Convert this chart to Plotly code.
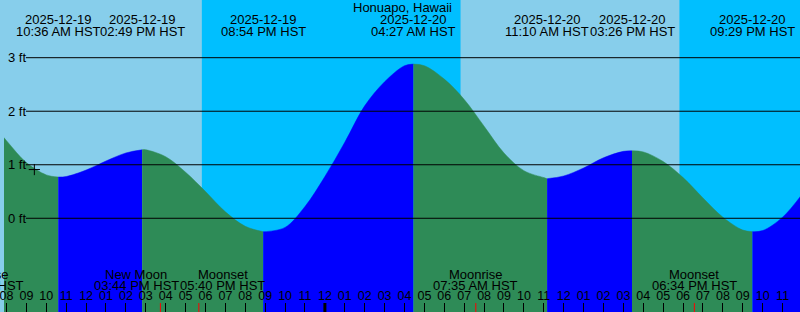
import plotly.graph_objects as go
import pandas as pd

# ---------------- data ----------------
station = "Honuapo, Hawaii"
tz_name = "HST"

hour_times = pd.date_range("2025-12-19 07:00", "2025-12-21 00:00", freq="h")
hour_heights = [1.89, 1.45, 1.04, 0.81, 0.78, 0.90, 1.07, 1.22,
                1.28, 1.15, 0.86, 0.50, 0.12, -0.15,
                -0.25, -0.17, 0.22, 0.78, 1.42, 2.10, 2.55, 2.85,
                2.85, 2.60, 2.22, 1.72, 1.22, 0.89, 0.76,
                0.79, 0.94, 1.13, 1.25,
                1.24, 1.06, 0.76, 0.38, 0.02, -0.22,
                -0.23, 0.02, 0.46]

extreme_times = ["2025-12-19 10:36", "2025-12-19 14:49", "2025-12-19 20:54",
                 "2025-12-20 04:27", "2025-12-20 11:10", "2025-12-20 15:26",
                 "2025-12-20 21:29"]
extreme_heights = [0.77, 1.28, -0.25, 2.88, 0.74, 1.26, -0.25]

sunsets = ["2025-12-19 17:49", "2025-12-20 17:49"]
sunrises = ["2025-12-20 06:49", "2025-12-21 06:49"]

event_times = ["2025-12-19 06:46", "2025-12-19 15:44", "2025-12-19 17:40",
               "2025-12-20 07:35", "2025-12-20 18:34"]
event_names = ["Moonrise", "New Moon", "Moonset", "Moonrise", "Moonset"]

now_time = "2025-12-19 09:24"
now_height = 0.91

y_ticks = [0, 1, 2, 3]
y_tick_text = ["0 ft", "1 ft", "2 ft", "3 ft"]
midnight = "2025-12-20 00:00"
x_range = ["2025-12-19 07:52:30", "2025-12-20 23:52:30"]
y_range = [-1.751, 4.078]

# ---------------- style ----------------
FONT = "Liberation Sans"
FS = 13
FS_TICK = 12.5
DAY = "#87CEEB"
NIGHT = "#00BFFF"
RISE = "#0000FF"
FALL = "#2E8B57"
W, H = 800, 312
event_xshift = [0, -24, 24, 0, 0]

def py(pix):
    return 1 - pix / H

r0, r1 = pd.Timestamp(x_range[0]), pd.Timestamp(x_range[1])

def xfrac(t):
    return (pd.Timestamp(t) - r0) / (r1 - r0)

fig = go.Figure()

# merge samples and extremes, split at extremes
pts = [(t, h, False) for t, h in zip(hour_times, hour_heights)]
pts += [(pd.Timestamp(t), h, True) for t, h in zip(extreme_times, extreme_heights)]
pts.sort(key=lambda p: p[0])

segments = []
cur = []
for p in pts:
    cur.append(p)
    if p[2]:
        segments.append(cur)
        cur = [p]
segments.append(cur)

for seg in segments:
    xs = [p[0] for p in seg]
    ys = [p[1] for p in seg]
    color = RISE if ys[-1] > ys[0] else FALL
    fig.add_trace(go.Scatter(x=xs, y=[y_range[0]] * len(xs), mode="lines",
                             line=dict(width=0), hoverinfo="skip", showlegend=False))
    fig.add_trace(go.Scatter(x=xs, y=ys, mode="lines", fill="tonexty",
                             fillcolor=color, line=dict(width=0.5, color=color, shape="spline"),
                             hoverinfo="skip", showlegend=False))

# current position marker
fig.add_trace(go.Scatter(x=[now_time], y=[now_height], mode="markers",
                         marker=dict(symbol="cross-thin", size=8,
                                     line=dict(width=1, color="black")),
                         hoverinfo="skip", showlegend=False))

shapes = []
for s, r in zip(sunsets, sunrises):
    shapes.append(dict(type="rect", xref="x", yref="paper", x0=s, x1=r, y0=0, y1=1,
                       fillcolor=NIGHT, line=dict(width=0), layer="below"))
for v in y_ticks:
    shapes.append(dict(type="line", xref="paper", yref="y", x0=22 / W, x1=1, y0=v, y1=v,
                       line=dict(color="black", width=1), layer="above"))
shapes.append(dict(type="line", xref="x", yref="paper", x0=midnight, x1=midnight,
                   y0=0, y1=9 / H, line=dict(color="black", width=3), layer="above"))
for t in event_times:
    shapes.append(dict(type="line", xref="x", yref="paper", x0=t, x1=t, y0=0, y1=9 / H,
                       line=dict(color="red", width=1), layer="above"))

annots = [dict(text=station, xref="paper", yref="paper", x=0.5, y=py(7.0),
               xanchor="center", yanchor="middle", showarrow=False)]
for v, txt in zip(y_ticks, y_tick_text):
    annots.append(dict(text=txt, xref="paper", yref="y", x=0, y=v, xshift=1.5,
                       xanchor="left", yanchor="middle", showarrow=False))
for t in extreme_times:
    ts = pd.Timestamp(t)
    annots.append(dict(text=ts.strftime("%Y-%m-%d"), xref="x", yref="paper", x=t,
                       y=py(19.2), xanchor="center", yanchor="middle", showarrow=False))
    annots.append(dict(text=ts.strftime("%I:%M %p ") + tz_name, xref="x", yref="paper", x=t,
                       y=py(31.7), xanchor="center", yanchor="middle", showarrow=False))
for t, n, sh in zip(event_times, event_names, event_xshift):
    ts = pd.Timestamp(t)
    annots.append(dict(text=n, xref="paper", yref="paper", x=xfrac(t), xshift=sh,
                       y=py(274), xanchor="center", yanchor="middle", showarrow=False))
    annots.append(dict(text=ts.strftime("%I:%M %p ") + tz_name, xref="paper", yref="paper",
                       x=xfrac(t), xshift=sh, y=py(285.8), xanchor="center",
                       yanchor="middle", showarrow=False))

fig.update_layout(
    width=W, height=H, autosize=False,
    margin=dict(l=0, r=0, t=0, b=0, pad=0),
    plot_bgcolor=DAY, paper_bgcolor=DAY,
    font=dict(family=FONT, size=FS, color="black"),
    showlegend=False,
    shapes=shapes, annotations=annots,
    xaxis=dict(type="date", range=x_range, dtick=3600000, tick0="2025-12-19 00:00",
               tickformat="%I", ticks="inside", ticklen=9, tickwidth=1, tickcolor="black",
               ticklabelposition="inside", ticklabeloverflow="allow",
               showgrid=False, showline=False, zeroline=False, fixedrange=True,
               tickfont=dict(family=FONT, size=FS_TICK, color="black")),
    yaxis=dict(range=y_range, showticklabels=False, ticks="",
               showgrid=False, showline=False, zeroline=False, fixedrange=True),
)

fig.write_html("out.html")
